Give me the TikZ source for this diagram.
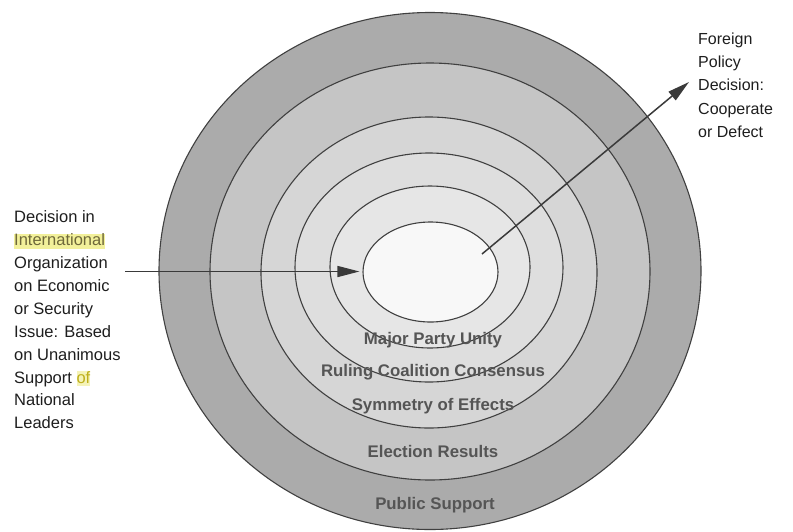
\documentclass[tikz,border=0pt]{standalone}
\usepackage{fontspec}
\setmainfont{Liberation Sans}
\usetikzlibrary{arrows.meta,shapes.geometric}

\definecolor{ringA}{HTML}{ABABAB}
\definecolor{ringB}{HTML}{C5C5C5}
\definecolor{ringC}{HTML}{D6D6D6}
\definecolor{ringD}{HTML}{DEDEDE}
\definecolor{ringE}{HTML}{E6E6E6}
\definecolor{ringF}{HTML}{F8F8F8}
\definecolor{edgegray}{HTML}{404040}
\definecolor{labelgray}{HTML}{555555}
\definecolor{bodytext}{HTML}{1E1E1E}
\definecolor{arrowgray}{HTML}{3A3A3A}
\definecolor{hlfill}{HTML}{F2F09A}
\definecolor{hlfillsoft}{HTML}{F5F3B8}
\definecolor{hltext}{HTML}{6E683A}
\definecolor{hltextof}{HTML}{BFB01C}

% highlighted word: coloured band behind the letters
\newcommand{\markword}[3]{{\setlength{\fboxsep}{0pt}\colorbox{#1}{\vphantom{Ig}\textcolor{#2}{#3}}}}

\tikzset{
  ring/.style={ellipse, draw=edgegray, line width=1.1pt, inner sep=0pt},
  ringlabel/.style={font=\fontsize{16.8}{20}\selectfont\bfseries, text=labelgray, anchor=base, inner sep=0pt},
  sidetext/.style={font=\fontsize{16.5}{22.9}\selectfont, text=bodytext, align=left, anchor=north west, inner sep=0pt},
  flow/.style={draw=arrowgray, line width=1.5pt, -{Triangle[length=22pt, width=11pt]}}
}

\begin{document}
\begin{tikzpicture}[x=1pt, y=-1pt]
\useasboundingbox (0,0) rectangle (793,531);
\fill[white] (0,0) rectangle (793,531);

% nested levels, outermost first
\node[ring, fill=ringA, minimum width=542pt, minimum height=517pt] (public)    at (430,271) {};
\node[ring, fill=ringB, minimum width=440pt, minimum height=417pt] (election)  at (430,271.5) {};
\node[ring, fill=ringC, minimum width=336pt, minimum height=311pt] (symmetry)  at (429,272.5) {};
\node[ring, fill=ringD, minimum width=268pt, minimum height=229pt] (coalition) at (429,267.5) {};
\node[ring, fill=ringE, minimum width=200pt, minimum height=162pt] (party)     at (430,267) {};
\node[ring, fill=ringF, minimum width=135pt, minimum height=100pt] (core)      at (430.5,272) {};

% level names
\node[ringlabel] (lblparty)     at (433,344) {Major Party Unity};
\node[ringlabel] (lblcoalition) at (433,376) {Ruling Coalition Consensus};
\node[ringlabel] (lblsymmetry)  at (433,410) {Symmetry of Effects};
\node[ringlabel] (lblelection)  at (433,457) {Election Results};
\node[ringlabel] (lblpublic)    at (435,509) {Public Support};

% input and output texts
\node[sidetext] (input) at (14,210.6) {Decision in\\
  \markword{hlfill}{hltext}{International}\\
  Organization\\
  on Economic\\
  or Security\\
  Issue: Based\\
  on Unanimous\\
  Support \markword{hlfillsoft}{hltextof}{of}\\
  National\\
  Leaders};
\node[sidetext, font=\fontsize{16}{23.3}\selectfont] (output) at (698,32.5) {Foreign\\
  Policy\\
  Decision:\\
  Cooperate\\
  or Defect};

% arrows
\coordinate (inStart) at (125,271.5);
\coordinate (outStart) at (482,254);
\coordinate (outEnd) at (689,82);
\draw[flow, shorten >=3pt] (inStart) -- (core.west |- inStart);
\draw[flow] (outStart) -- (outEnd);
\end{tikzpicture}
\end{document}
